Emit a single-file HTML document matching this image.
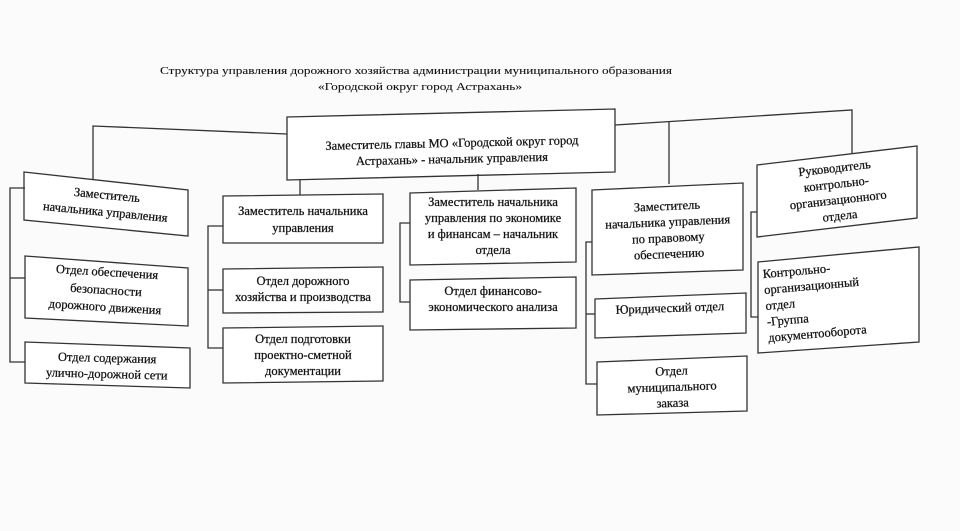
<!DOCTYPE html>
<html><head><meta charset="utf-8"><style>
html,body{margin:0;padding:0;background:#fbfbfb;}
svg{display:block}
text{font-family:"Liberation Serif","DejaVu Serif",serif;font-size:12.5px;fill:#111;stroke:#111;stroke-width:0.25;}
</style></head><body>
<svg width="960" height="531" viewBox="0 0 960 531" xmlns="http://www.w3.org/2000/svg">
<rect width="960" height="531" fill="#fbfbfb"/>
<g fill="none" stroke="#333" stroke-width="1.3">
<polygon points="287,117 615,109 615,172 287,180" fill="#fff"/>
<polyline points="287,134 93,126 93,182"/>
<polyline points="615,125 852,110 852,156"/>
<line x1="669" y1="121" x2="669" y2="184"/>
<line x1="300" y1="180" x2="300" y2="195"/>
<line x1="478" y1="174" x2="478" y2="190"/>
<polygon points="24,172 188,190 188,236 24,220" fill="#fff"/>
<polygon points="25,256 188,268 188,326 25,318" fill="#fff"/>
<polygon points="25,342 190,348 190,388 25,383" fill="#fff"/>
<polyline points="25,188 10,188 10,362 25,362"/>
<line x1="10" y1="278" x2="25" y2="278"/>
<polygon points="223,196 383,194 383,243 223,243" fill="#fff"/>
<polygon points="223,269 383,267 383,312 223,313" fill="#fff"/>
<polygon points="223,328 383,326 383,381 223,383" fill="#fff"/>
<polyline points="223,226 208,226 208,348 223,348"/>
<line x1="208" y1="290" x2="223" y2="290"/>
<polygon points="410,193 576,188 576,262 410,265" fill="#fff"/>
<polygon points="410,280 576,277 576,328 410,330" fill="#fff"/>
<polyline points="410,223 400,223 400,302 410,302"/>
<polygon points="592,190 743,183 743,270 592,275" fill="#fff"/>
<polygon points="595,299 746,293 746,333 595,338" fill="#fff"/>
<polygon points="597,362 747,356 747,411 597,415" fill="#fff"/>
<polyline points="592,242 586,242 586,384 597,384"/>
<line x1="586" y1="314" x2="595" y2="314"/>
<polygon points="757,165 917,146 917,218 757,237" fill="#fff"/>
<polygon points="758,262 919,247 919,342 758,353" fill="#fff"/>
<polyline points="757,212 751,212 751,317 758,317"/>
</g>
<text x="160" y="74" textLength="512" lengthAdjust="spacingAndGlyphs" style="font-size:11px;stroke-width:0.1">Структура управления дорожного хозяйства администрации муниципального образования</text>
<text x="318" y="90" textLength="204" lengthAdjust="spacingAndGlyphs" style="font-size:11px;stroke-width:0.1">«Городской округ город Астрахань»</text>

<g text-anchor="middle">
<text x="452" y="147" transform="rotate(-1.3 452 147)">Заместитель главы МО «Городской округ город</text>
<text x="452" y="163" transform="rotate(-1.3 452 163)">Астрахань» - начальник управления</text>

<g transform="rotate(5.5 106 205)">
<text x="106" y="199">Заместитель</text>
<text x="106" y="216">начальника управления</text>
</g>
<g transform="rotate(3.5 106 290)">
<text x="106" y="276">Отдел обеспечения</text>
<text x="106" y="294">безопасности</text>
<text x="106" y="311">дорожного движения</text>
</g>
<g transform="rotate(1.5 107 365)">
<text x="107" y="362">Отдел содержания</text>
<text x="107" y="378">улично-дорожной сети</text>
</g>

<text x="303" y="215">Заместитель начальника</text>
<text x="303" y="232">управления</text>
<text x="303" y="285">Отдел дорожного</text>
<text x="303" y="301">хозяйства и производства</text>
<text x="303" y="343">Отдел подготовки</text>
<text x="303" y="359">проектно-сметной</text>
<text x="303" y="375">документации</text>

<g style="font-size:12px">
<text x="493" y="206">Заместитель начальника</text>
<text x="493" y="222">управления по экономике</text>
<text x="493" y="238">и финансам – начальник</text>
<text x="493" y="254">отдела</text>
<text x="493" y="295">Отдел финансово-</text>
<text x="493" y="311">экономического анализа</text>
</g>

<g transform="rotate(-2.5 668 230)">
<text x="668" y="210">Заместитель</text>
<text x="668" y="226">начальника управления</text>
<text x="668" y="242">по правовому</text>
<text x="668" y="258">обеспечению</text>
</g>
<text x="670" y="312" transform="rotate(-2 670 312)">Юридический отдел</text>
<g transform="rotate(-2 672 385)">
<text x="672" y="375">Отдел</text>
<text x="672" y="391">муниципального</text>
<text x="672" y="407">заказа</text>
</g>

<g transform="rotate(-6.5 837 190)">
<text x="837" y="172">Руководитель</text>
<text x="837" y="188">контрольно-</text>
<text x="837" y="204">организационного</text>
<text x="837" y="220">отдела</text>
</g>
</g>
<g transform="rotate(-5 765 300)">
<text x="765" y="278">Контрольно-</text>
<text x="765" y="294">организационный</text>
<text x="765" y="310">отдел</text>
<text x="765" y="326">-Группа</text>
<text x="765" y="342">документооборота</text>
</g>
</svg>
</body></html>
